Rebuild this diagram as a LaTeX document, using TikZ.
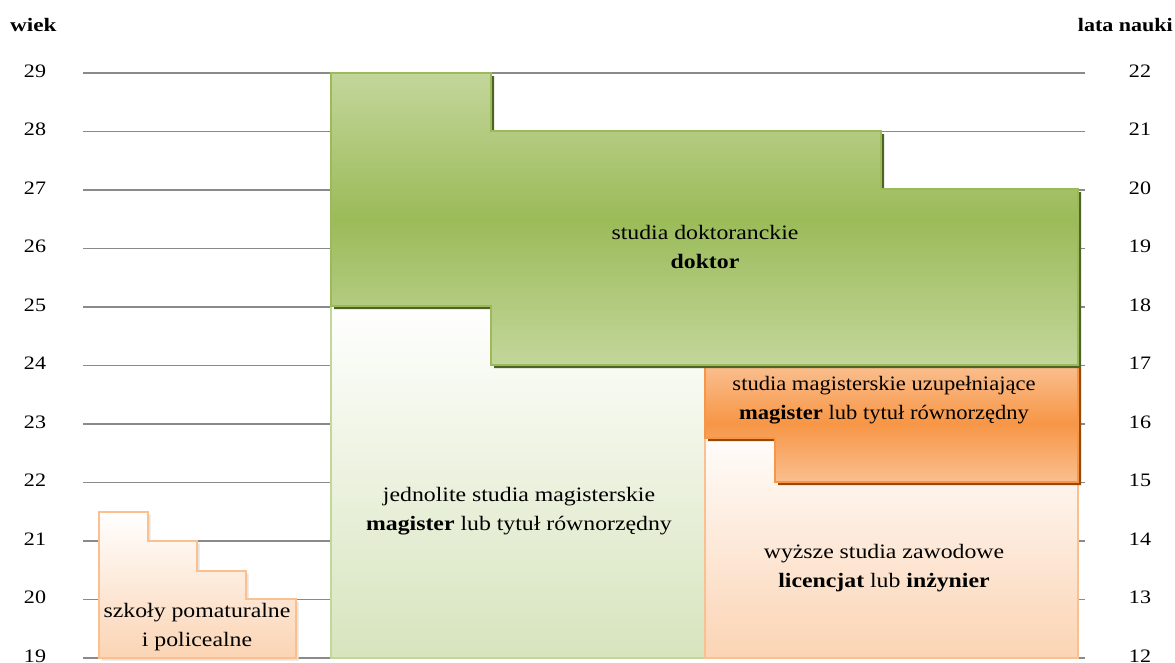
\documentclass[tikz,border=0pt]{standalone}
\usepackage{fontspec}
\setmainfont{Liberation Serif}[FakeStretch=1.16]
\definecolor{gridgrey}{HTML}{8A8A8A}
\definecolor{greenlight}{HTML}{C3D69B}
\definecolor{greenmid}{HTML}{9BBB59}
\definecolor{greendark}{HTML}{4F6228}
\definecolor{greenpale}{HTML}{D7E4BD}
\definecolor{orangelight}{HTML}{FABF8F}
\definecolor{orangemid}{HTML}{F79646}
\definecolor{orangedark}{HTML}{984807}
\definecolor{peach}{HTML}{FBD4B4}
\definecolor{peachline}{HTML}{FAC090}
\begin{document}
\begin{tikzpicture}[x=1pt,y=-1pt,
  gridline/.style={draw=gridgrey,line width=1.4pt},
  axislabel/.style={font=\fontsize{19}{22}\selectfont},
  headlabel/.style={font=\fontsize{19}{22}\selectfont\bfseries},
  boxtext/.style={align=center,font=\fontsize{20.5}{29}\selectfont},
  peachbox/.style={top color=white,bottom color=peach,draw=peachline,line width=1.3pt},
  palegreenbox/.style={top color=white,bottom color=greenpale,draw=greenlight,line width=1.3pt},
  greenbox/.style={top color=greenlight,bottom color=greenlight,middle color=greenmid,draw=greenmid,line width=1.3pt},
  orangebox/.style={top color=orangelight,bottom color=orangelight,middle color=orangemid,draw=orangemid,line width=1.3pt},
  softshadow/.style={fill=peachline!35!black!15},
]
\useasboundingbox (0,0) rectangle (1175,662);

% horizontal scale lines with age and years of study
\foreach \a in {19,...,29} {
  \pgfmathsetmacro\yy{73+(29-\a)*58.5}
  \pgfmathtruncatemacro\n{\a-7}
  \draw[gridline] (83,\yy) -- (1085,\yy);
  \node[axislabel] (w\a) at (35,\yy-2) {\a};
  \node[axislabel] (l\n) at (1140,\yy-2) {\n};
}
\node[headlabel,anchor=west,inner xsep=0pt] (wiek) at (10,25) {\addfontfeature{FakeStretch=1.22}wiek};
\node[headlabel,anchor=east,inner xsep=0pt] (lata) at (1173,25) {lata nauki};

% single-cycle master studies
\draw[palegreenbox] (331,306) rectangle (705,658);

% first-cycle professional studies
\draw[peachbox] (705,424) rectangle (1078,658);

% complementary master studies
\fill[orangedark,shift={(3,3)}] (705,365) -- (1078,365) -- (1078,482) -- (775,482) -- (775,438) -- (705,438) -- cycle;
\draw[orangebox] (705,365) -- (1078,365) -- (1078,482) -- (775,482) -- (775,438) -- (705,438) -- cycle;

% doctoral studies
\fill[greendark,shift={(3,3)}] (331,73) -- (491,73) -- (491,131) -- (881,131) -- (881,189) -- (1078,189) -- (1078,365) -- (491,365) -- (491,306) -- (331,306) -- cycle;
\draw[greenbox] (331,73) -- (491,73) -- (491,131) -- (881,131) -- (881,189) -- (1078,189) -- (1078,365) -- (491,365) -- (491,306) -- (331,306) -- cycle;

% post-secondary schools
\fill[softshadow,shift={(2.5,2.5)}] (99,512) -- (148,512) -- (148,541) -- (197,541) -- (197,571) -- (246,571) -- (246,599) -- (296,599) -- (296,658) -- (99,658) -- cycle;
\draw[peachbox] (99,512) -- (148,512) -- (148,541) -- (197,541) -- (197,571) -- (246,571) -- (246,599) -- (296,599) -- (296,658) -- (99,658) -- cycle;

% box captions
\node[boxtext] (doktor) at (705,247) {studia doktoranckie\\\textbf{doktor}};
\node[boxtext] (jednolite) at (519,511) {jednolite studia magisterskie\\\textbf{magister} lub tytuł równorzędny};
\node[boxtext] (uzup) at (884,400) {\addfontfeature{FakeStretch=1.1}studia magisterskie uzupełniające\\\addfontfeature{FakeStretch=1.1}\textbf{magister} lub tytuł równorzędny};
\node[boxtext] (zawodowe) at (884,568) {wyższe studia zawodowe\\\textbf{licencjat} lub \textbf{inżynier}};
\node[boxtext] (szkoly) at (197,627) {szkoły pomaturalne\\i policealne};
\end{tikzpicture}
\end{document}
